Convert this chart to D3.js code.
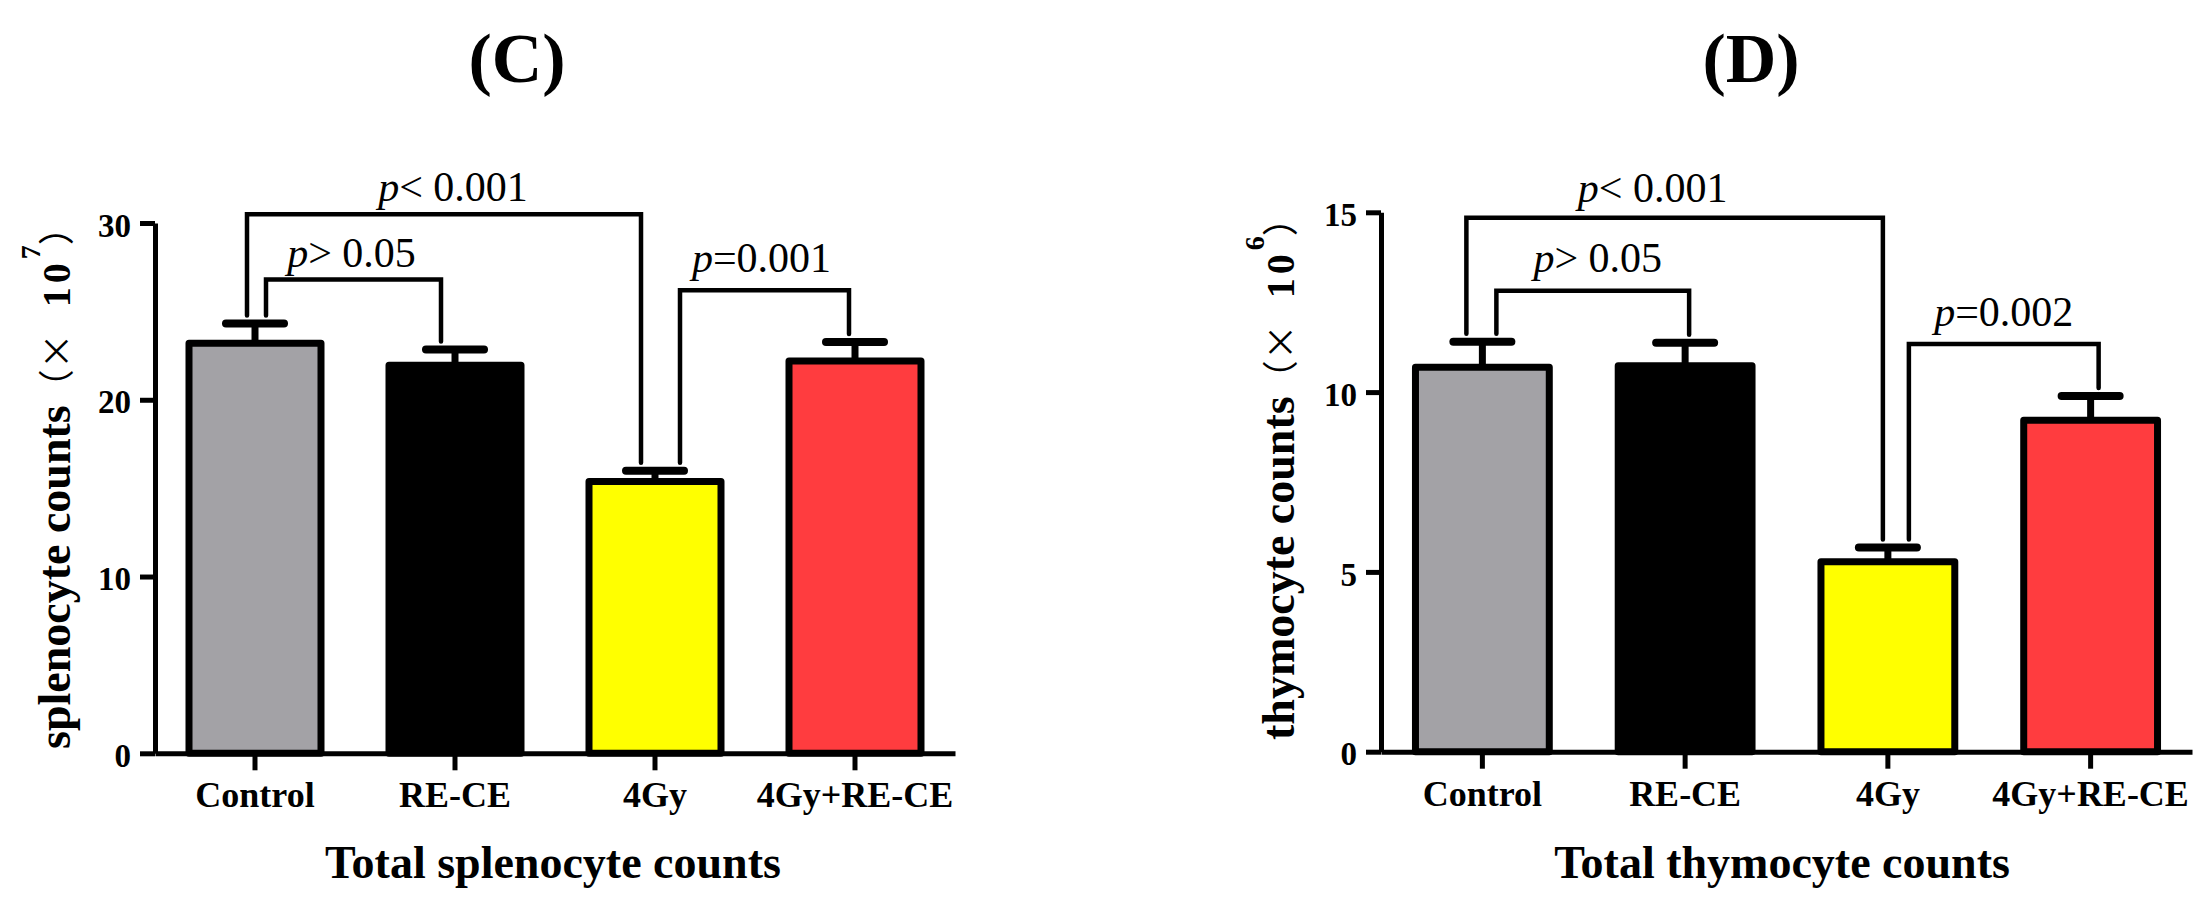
<!DOCTYPE html>
<meta charset="UTF-8">
<script src="https://d3js.org/d3.v7.min.js"></script>
<style>
  body { margin: 0; background: #fff; }
</style>
<div id="my_dataviz"></div>
<script>
// groups, same for both panels
var categories = ["Control", "RE-CE", "4Gy", "4Gy+RE-CE"];

// (C) splenocyte counts (x 10^7): mean and upper error
var splenoMeans  = [23.2, 21.95, 15.37, 22.2];
var splenoErrors = [1.12, 0.9, 0.61, 1.07];
var splenoTicks  = [0, 10, 20, 30];
var splenoComparisons = [
  {from: 0, to: 2, top: 30.5, sign: "< 0.001"},
  {from: 0, to: 1, top: 26.8, sign: "> 0.05"},
  {from: 2, to: 3, top: 26.2, sign: "=0.001"}
];

// (D) thymocyte counts (x 10^6)
var thymoMeans  = [10.69, 10.73, 5.28, 9.22];
var thymoErrors = [0.71, 0.64, 0.4, 0.67];
var thymoTicks  = [0, 5, 10, 15];
var thymoComparisons = [
  {from: 0, to: 2, top: 14.85, sign: "< 0.001"},
  {from: 0, to: 1, top: 12.82, sign: "> 0.05"},
  {from: 2, to: 3, top: 11.34, sign: "=0.002"}
];

var barColors = ["#a3a2a6", "#000000", "#ffff00", "#ff3c3f"];
var serif = "'Liberation Serif', 'Times New Roman', serif";

var svg = d3.select("#my_dataviz")
  .append("svg")
    .attr("width", 2207)
    .attr("height", 905)
    .style("font-family", serif);

// panel layout (pixel positions only, no data here)
var panels = [
  {
    means: splenoMeans, errors: splenoErrors, ticks: splenoTicks, comps: splenoComparisons,
    x0: 155, x1: 955, y0: 753.3, y1: 223,
    title: "(C)", titleX: 517,
    ylabel: "splenocyte counts", exponent: "7", ylabelX: 70, ylabelStart: 749,
    xtitle: "Total splenocyte counts", xtitleX: 553,
    legs: [[-8, -14], [11, -14], [25, -6]],
    labelShift: [[9, 13], [-2, 13], [-3, 18]]
  },
  {
    means: thymoMeans, errors: thymoErrors, ticks: thymoTicks, comps: thymoComparisons,
    x0: 1381, x1: 2192, y0: 751.7, y1: 212.3,
    title: "(D)", titleX: 1751,
    ylabel: "thymocyte counts", exponent: "6", ylabelX: 1294, ylabelStart: 740,
    xtitle: "Total thymocyte counts", xtitleX: 1782,
    legs: [[-16, -5], [14, 4], [21, 8]],
    labelShift: [[-22, 16], [5, 19], [0, 18]]
  }
];

panels.forEach(drawPanel);

function drawPanel(p) {
  var x = d3.scaleBand()
      .domain(categories)
      .range([p.x0, p.x1])
      .paddingInner(0.34)
      .paddingOuter(0.17);
  var y = d3.scaleLinear()
      .domain([0, p.ticks[p.ticks.length - 1]])
      .range([p.y0, p.y1]);
  var cx = function(i) { return x(categories[i]) + x.bandwidth() / 2; };

  var g = svg.append("g");

  // bars
  g.append("g")
    .selectAll("rect")
    .data(p.means)
    .join("rect")
      .attr("x", function(d, i) { return x(categories[i]); })
      .attr("y", function(d) { return y(d); })
      .attr("width", x.bandwidth())
      .attr("height", function(d) { return y(0) - y(d); })
      .attr("fill", function(d, i) { return barColors[i]; })
      .attr("stroke", "#000")
      .attr("stroke-width", 7)
      .attr("stroke-linejoin", "round");

  // error bars (upper only)
  var eb = g.append("g").selectAll("g")
    .data(p.means)
    .join("g");
  eb.append("line")
      .attr("x1", function(d, i) { return cx(i); })
      .attr("x2", function(d, i) { return cx(i); })
      .attr("y1", function(d) { return y(d); })
      .attr("y2", function(d, i) { return y(d + p.errors[i]); })
      .attr("stroke", "#000")
      .attr("stroke-width", 7);
  eb.append("line")
      .attr("x1", function(d, i) { return cx(i) - 29; })
      .attr("x2", function(d, i) { return cx(i) + 29; })
      .attr("y1", function(d, i) { return y(d + p.errors[i]); })
      .attr("y2", function(d, i) { return y(d + p.errors[i]); })
      .attr("stroke", "#000")
      .attr("stroke-width", 8)
      .attr("stroke-linecap", "round");

  // y axis
  var yAx = g.append("g")
      .attr("transform", "translate(" + p.x0 + ",0)")
      .call(d3.axisLeft(y).tickValues(p.ticks).tickSize(15).tickPadding(9).tickSizeOuter(0));
  // x axis
  var xAx = g.append("g")
      .attr("transform", "translate(0," + p.y0 + ")")
      .call(d3.axisBottom(x).tickSize(17).tickSizeOuter(0));

  [yAx, xAx].forEach(function(a) {
    a.attr("font-family", serif).attr("font-weight", "bold");
    a.select(".domain").attr("stroke", "#000").attr("stroke-width", 5);
    a.selectAll(".tick line").attr("stroke", "#000").attr("stroke-width", 5);
    a.selectAll(".tick text").attr("fill", "#000");
  });
  yAx.attr("font-size", 33);
  yAx.selectAll(".tick text").attr("dy", "0.4em");
  xAx.attr("font-size", 36);
  xAx.selectAll(".tick text").attr("y", 54).attr("dy", 0);

  // significance brackets
  p.comps.forEach(function(c, k) {
    var xl = cx(c.from) + p.legs[k][0],
        xr = cx(c.to) + p.legs[k][1],
        yt = y(c.top),
        yl = y(p.means[c.from] + p.errors[c.from]) - 8,
        yr = y(p.means[c.to] + p.errors[c.to]) - 8;
    g.append("path")
      .attr("d", "M" + xl + "," + yl + "V" + yt + "H" + xr + "V" + yr)
      .attr("fill", "none")
      .attr("stroke", "#000")
      .attr("stroke-width", 4.5)
      .attr("stroke-linecap", "round");
    var t = g.append("text")
      .attr("x", (xl + xr) / 2 + p.labelShift[k][0])
      .attr("y", yt - p.labelShift[k][1])
      .attr("text-anchor", "middle")
      .attr("font-size", 42);
    t.append("tspan").attr("font-style", "italic").text("p");
    t.append("tspan").text(c.sign);
  });

  // panel title
  g.append("text")
    .attr("x", p.titleX)
    .attr("y", 82)
    .attr("text-anchor", "middle")
    .attr("font-size", 70)
    .attr("font-weight", "bold")
    .text(p.title);

  // x title
  g.append("text")
    .attr("x", p.xtitleX)
    .attr("y", 878)
    .attr("text-anchor", "middle")
    .attr("font-size", 46)
    .attr("font-weight", "bold")
    .text(p.xtitle);

  // y title with unit
  var yl = g.append("text")
    .attr("transform", "translate(" + p.ylabelX + "," + p.ylabelStart + ") rotate(-90)")
    .attr("text-anchor", "start");
  yl.append("tspan").attr("font-size", 46).attr("font-weight", "bold").text(p.ylabel);
  yl.append("tspan").attr("font-size", 36).attr("font-family", "'Noto Sans CJK SC'").text("（×");
  yl.append("tspan").attr("font-size", 40).attr("font-weight", "bold").attr("dx", 26)
    .attr("letter-spacing", 4).text("10");
  yl.append("tspan").attr("font-size", 28).attr("font-weight", "bold").attr("dy", -30).text(p.exponent);
  yl.append("tspan").attr("font-size", 36).attr("font-family", "'Noto Sans CJK SC'").attr("dy", 30).text("）");
}
</script>
